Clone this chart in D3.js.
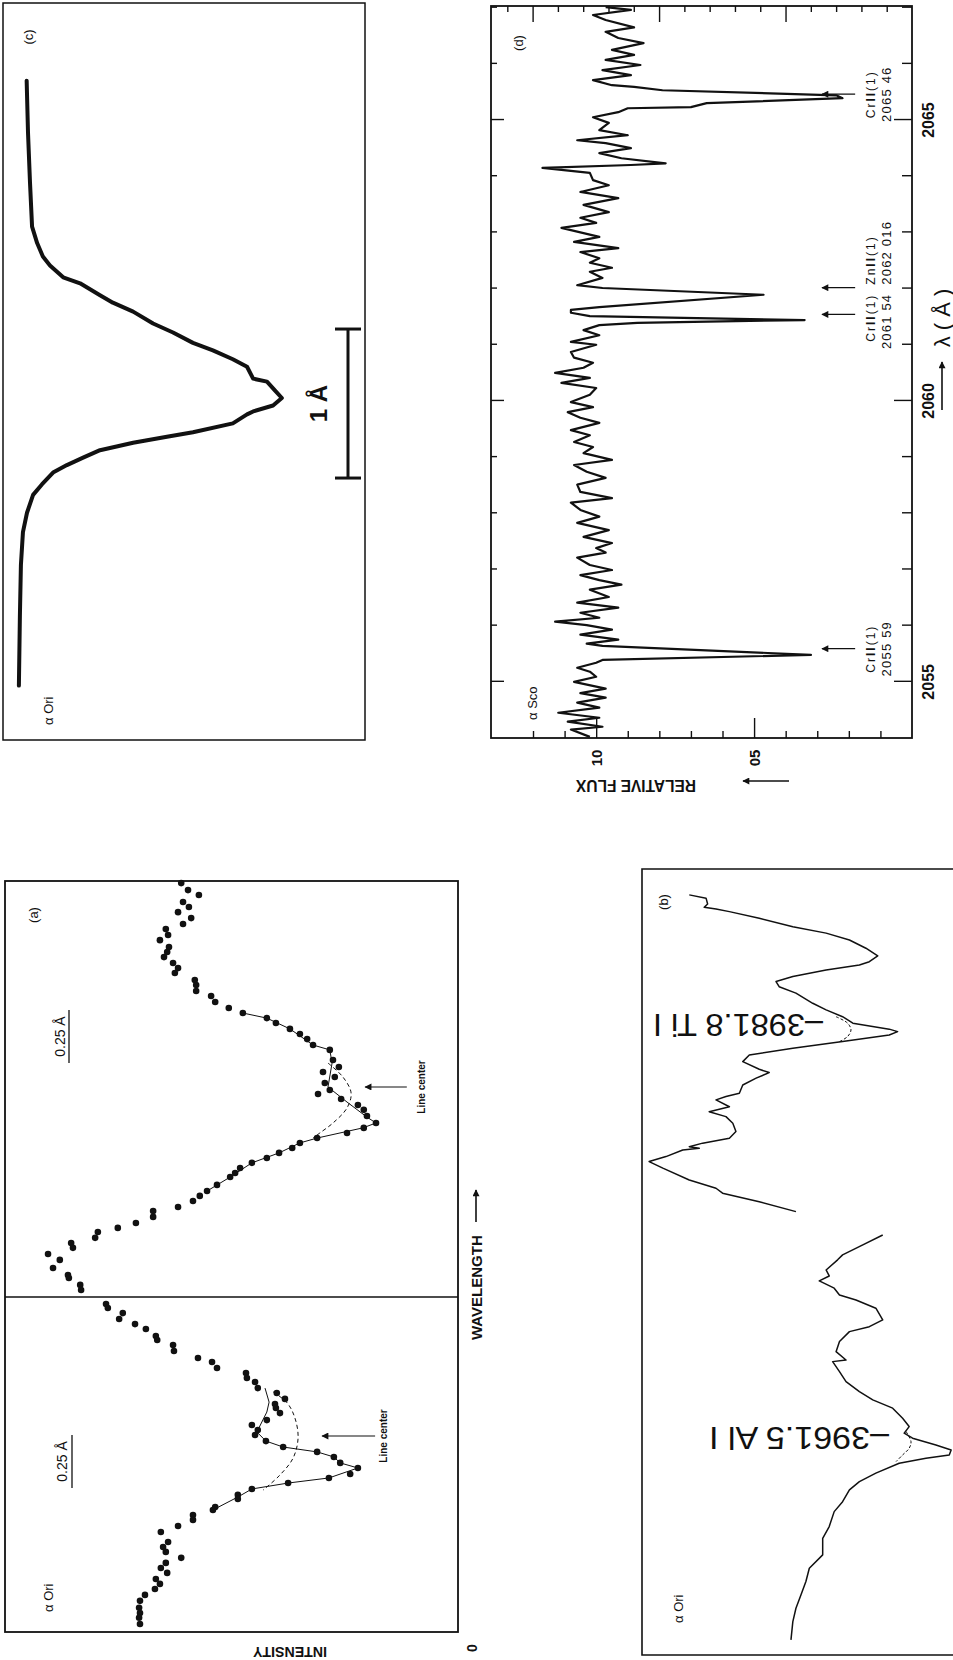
<!DOCTYPE html>
<html><head><meta charset="utf-8">
<script src="https://cdn.jsdelivr.net/npm/d3@7"></script>
<style>body{margin:0;background:#fff}svg{display:block}text{font-family:"Liberation Sans",Arial,sans-serif;fill:#111}</style>
</head><body><script>
// ---------- DATA ----------
// (c) alpha Ori line profile: wavelength offset (A) and relative intensity
const cWave = [2.13,1.78,1.44,1.15,1.04,0.95,0.89,0.81,0.77,0.69,0.64,0.58,0.50,0.44,0.37,0.32,0.26,0.21,0.13,0.11,0.05,0.00,-0.05,-0.09,-0.11,-0.17,-0.23,-0.26,-0.30,-0.35,-0.40,-0.45,-0.50,-0.58,-0.65,-0.77,-0.90,-1.12,-1.46,-1.93];
const cInt  = [1.001,0.997,0.991,0.985,0.970,0.953,0.932,0.893,0.843,0.784,0.746,0.686,0.627,0.568,0.509,0.450,0.391,0.349,0.331,0.290,0.266,0.246,0.272,0.331,0.349,0.391,0.509,0.586,0.686,0.784,0.834,0.882,0.923,0.956,0.982,1.000,1.012,1.018,1.021,1.024];

// (d) alpha Sco spectrum
const dWave = [2054.02,2054.15,2054.20,2054.29,2054.36,2054.45,2054.54,2054.63,2054.72,2054.80,2054.88,2055.00,2055.09,2055.18,2055.25,2055.34,2055.39,2055.48,2055.64,2055.68,2055.75,2055.84,2055.93,2056.01,2056.07,2056.14,2056.23,2056.32,2056.41,2056.51,2056.64,2056.73,2056.81,2056.90,2056.99,2057.08,2057.21,2057.30,2057.38,2057.47,2057.58,2057.70,2057.83,2057.94,2058.06,2058.19,2058.27,2058.38,2058.51,2058.63,2058.74,2058.86,2058.95,2059.07,2059.18,2059.27,2059.39,2059.48,2059.61,2059.70,2059.80,2059.89,2059.98,2060.11,2060.23,2060.32,2060.41,2060.50,2060.59,2060.68,2060.77,2060.87,2061.00,2061.05,2061.17,2061.26,2061.35,2061.39,2061.44,2061.51,2061.57,2061.62,2061.67,2061.89,2062.01,2062.06,2062.19,2062.30,2062.37,2062.46,2062.54,2062.65,2062.72,2062.83,2062.92,2063.08,2063.17,2063.26,2063.36,2063.49,2063.61,2063.72,2063.84,2063.93,2064.06,2064.15,2064.20,2064.23,2064.32,2064.41,2064.50,2064.59,2064.64,2064.73,2064.82,2064.95,2065.05,2065.14,2065.21,2065.23,2065.30,2065.39,2065.44,2065.53,2065.59,2065.62,2065.71,2065.80,2065.89,2065.98,2066.07,2066.16,2066.25,2066.37,2066.46,2066.57,2066.65,2066.78,2066.87,2066.96,2067.01];
const dFlux = [1.02,1.08,0.98,1.09,0.99,1.12,0.99,1.06,0.97,1.05,0.97,1.07,1.00,1.02,1.06,1.00,0.98,0.32,0.98,1.03,0.93,1.05,0.95,1.03,1.13,0.99,1.05,0.93,1.06,0.96,1.02,0.92,0.99,1.05,0.95,1.02,1.06,0.97,1.00,0.95,1.04,0.96,1.06,0.99,1.05,1.08,0.95,1.05,1.06,0.97,1.03,1.07,0.95,1.04,1.01,1.07,1.02,1.08,0.99,1.05,1.09,1.01,1.08,1.02,1.00,1.11,1.02,1.13,1.04,1.01,1.07,1.08,1.00,1.08,0.99,1.04,0.99,0.87,0.34,1.02,1.08,1.08,0.99,0.47,0.98,1.06,0.98,1.02,0.95,1.02,0.99,1.05,0.93,1.07,0.99,1.11,1.00,1.05,0.96,1.04,0.93,1.05,0.96,1.01,1.02,1.17,0.89,0.78,0.92,0.99,0.89,0.97,1.06,0.90,0.99,0.96,1.01,0.93,0.90,0.70,0.65,0.22,0.24,0.79,0.88,0.95,1.01,0.89,0.98,0.86,0.97,0.88,0.95,0.85,0.93,0.97,0.88,0.97,1.01,0.89,0.97];
const dWaveTicks = [2055,2056,2057,2058,2059,2060,2061,2062,2063,2064,2065,2066,2067];
const dWaveLabels = [2055,2060,2065];
const dFluxTicks = [0.1,0.2,0.3,0.4,0.5,0.6,0.7,0.8,0.9,1.0,1.1,1.2];
const dFluxLabelValues = [1.0,0.5];
const dFluxLabelText = ["10","05"];
const dTopTicks = [-1,0,1,2,3,4,5,6,7,8,9,10,11,12,13,14];
const lineWaves = [2055.59,2061.54,2062.016,2065.46];
const lineIons = ["Cr II (1)","Cr II (1)","Zn II (1)","Cr II (1)"];
const lineNums = ["2055 59","2061 54","2062 016","2065 46"];

// (a) alpha Ori line profiles (two panels) : wavelength offset (A) and intensity
const aUpperWave = [0.962,0.929,0.906,0.873,0.849,0.825,0.797,0.769,0.745,0.717,0.693,0.660,0.637,0.613,0.585,0.561,0.538,0.505,0.481,0.453,0.429,0.401,0.373,0.349,0.325,0.302,0.274,0.250,0.226,0.198,0.175,0.127,0.094,0.071,0.047,0.019,-0.014,-0.033,-0.057,-0.085,-0.108,-0.137,-0.170,-0.193,-0.217,-0.241,-0.264,-0.288,-0.311,-0.335,-0.358,-0.382,-0.406,-0.425,-0.462,-0.491,-0.514,-0.538,-0.566,-0.585,-0.613,-0.642,-0.665,-0.684,-0.712,-0.736,-0.759,-0.788,-0.816,-0.854,-0.887,-0.901,-0.934,-0.958];
const aUpperInt = [0.611,0.596,0.572,0.607,0.594,0.618,0.589,0.607,0.645,0.640,0.658,0.638,0.642,0.649,0.629,0.618,0.625,0.581,0.578,0.578,0.545,0.536,0.506,0.475,0.422,0.402,0.371,0.349,0.333,0.320,0.283,0.276,0.263,0.298,0.272,0.294,0.283,0.309,0.258,0.221,0.208,0.201,0.181,0.208,0.245,0.311,0.349,0.366,0.395,0.422,0.455,0.481,0.492,0.503,0.532,0.554,0.570,0.585,0.618,0.673,0.673,0.711,0.751,0.795,0.801,0.854,0.850,0.905,0.879,0.894,0.861,0.859,0.834,0.832];
const aUpperFitWave = [0.113,0.047,-0.028,-0.099,-0.170,-0.217,-0.241];
const aUpperFitInt = [0.287,0.254,0.236,0.245,0.276,0.305,0.320];
const aUpperLineWave = [0.349,0.325,0.274,0.198,0.175,0.113,0.000,-0.071,-0.142,-0.170,-0.193,-0.241,-0.264,-0.311,-0.358,-0.425,-0.491];
const aUpperLineInt = [0.475,0.422,0.371,0.320,0.283,0.278,0.287,0.245,0.201,0.181,0.210,0.311,0.349,0.395,0.455,0.503,0.554];
const aLowerWave = [0.623,0.604,0.580,0.552,0.528,0.505,0.472,0.453,0.429,0.401,0.368,0.349,0.321,0.297,0.274,0.255,0.226,0.203,0.175,0.151,0.132,0.108,0.075,0.052,0.028,0.005,-0.024,-0.052,-0.075,-0.099,-0.127,-0.151,-0.179,-0.198,-0.222,-0.250,-0.278,-0.297,-0.335,-0.349,-0.373,-0.396,-0.425,-0.453,-0.500,-0.524,-0.547,-0.575,-0.599,-0.623,-0.646,-0.675,-0.698,-0.722,-0.750,-0.778,-0.811,-0.835,-0.858,-0.887];
const aLowerInt = [0.777,0.773,0.740,0.748,0.713,0.689,0.667,0.664,0.629,0.627,0.574,0.543,0.532,0.468,0.466,0.448,0.442,0.400,0.382,0.404,0.402,0.393,0.422,0.455,0.442,0.448,0.424,0.386,0.311,0.274,0.260,0.221,0.238,0.285,0.375,0.455,0.486,0.486,0.536,0.541,0.585,0.585,0.618,0.656,0.640,0.651,0.645,0.611,0.645,0.656,0.642,0.667,0.658,0.669,0.691,0.702,0.704,0.702,0.704,0.702];
const aLowerFitWave = [0.208,0.156,0.085,-0.009,-0.104,-0.184,-0.255];
const aLowerFitInt = [0.408,0.377,0.360,0.353,0.364,0.393,0.430];
const aLowerLineWave = [0.226,0.160,0.113,0.019,-0.024,-0.052,-0.075,-0.099,-0.127,-0.151,-0.198,-0.222,-0.250,-0.288,-0.349];
const aLowerLineInt = [0.426,0.417,0.422,0.444,0.424,0.386,0.311,0.274,0.260,0.221,0.285,0.375,0.455,0.486,0.541];

// (b) alpha Ori spectra around Ti I 3981.8 and Al I 3961.5
const bTiWave = [3988.41,3988.25,3987.97,3987.81,3987.73,3987.60,3987.28,3986.87,3986.56,3986.23,3985.83,3985.46,3985.18,3985.02,3984.78,3984.46,3984.22,3983.97,3983.66,3983.17,3982.85,3982.52,3982.21,3981.92,3981.80,3981.64,3981.32,3981.00,3980.67,3980.35,3979.98,3979.82,3979.55,3979.22,3978.82,3978.66,3978.50,3978.17,3977.93,3977.69,3977.37,3976.97,3976.65,3976.41,3976.24,3976.16,3976.08,3975.76,3975.52,3975.20,3974.63,3974.23,3973.99,3973.58,3973.10];
const bTiInt = [0.848,0.794,0.789,0.800,0.762,0.719,0.623,0.515,0.408,0.333,0.280,0.242,0.269,0.301,0.408,0.515,0.569,0.559,0.505,0.451,0.408,0.355,0.322,0.205,0.178,0.205,0.355,0.515,0.655,0.676,0.623,0.591,0.633,0.676,0.687,0.730,0.762,0.719,0.784,0.730,0.708,0.698,0.719,0.805,0.848,0.816,0.869,0.923,0.977,0.933,0.848,0.762,0.741,0.623,0.505];
const bAlWave = [3971.97,3971.49,3971.01,3970.77,3970.28,3969.99,3969.75,3969.40,3969.07,3968.83,3968.43,3967.87,3967.54,3967.30,3966.82,3966.33,3965.93,3965.85,3965.37,3964.88,3964.40,3964.00,3963.60,3963.11,3962.71,3962.39,3962.15,3961.82,3961.58,3961.34,3961.18,3960.94,3960.46,3960.05,3959.65,3959.08,3958.60,3957.88,3957.31,3956.51,3955.86,3955.22,3954.57,3953.93,3953.28,3952.40];
const bAlInt = [0.226,0.290,0.355,0.371,0.408,0.398,0.430,0.382,0.365,0.312,0.248,0.226,0.269,0.333,0.365,0.376,0.344,0.387,0.365,0.344,0.301,0.258,0.194,0.162,0.141,0.157,0.130,0.055,0.006,0.012,0.087,0.173,0.248,0.301,0.333,0.355,0.382,0.398,0.419,0.419,0.462,0.473,0.489,0.505,0.515,0.521];
const bTiFitWave = [3982.52,3982.21,3981.88,3981.56,3981.32];
const bTiFitInt = [0.376,0.339,0.328,0.339,0.365];
const bAlFitWave = [3962.47,3961.98,3961.66,3961.34,3961.02];
const bAlFitInt = [0.151,0.135,0.141,0.162,0.183];
const bLineWaves = [3981.8,3961.5];
const bLineText = ["\u20133981.8 Ti I","\u20133961.5 Al I"];

// ---------- DRAW ----------
const INK = "#111";
const svg = d3.select("body").append("svg").attr("width",953).attr("height",1660);
svg.append("rect").attr("width",953).attr("height",1660).attr("fill","#fff");
const defs = svg.append("defs");
defs.append("marker").attr("id","ah").attr("viewBox","0 0 10 10").attr("refX",9).attr("refY",5)
  .attr("markerWidth",9).attr("markerHeight",7).attr("markerUnits","userSpaceOnUse").attr("orient","auto")
  .append("path").attr("d","M0,0L10,5L0,10z").attr("fill",INK);

const zip = (xs, ys) => xs.map((x,i)=>[x, ys[i]]);
function rotPanel(left, bottom){ return svg.append("g").attr("transform",`translate(${left},${bottom}) rotate(-90)`); }
function txt(g, u, v, s, size, opts={}){
  const t = g.append("text").attr("x",u).attr("y",v).attr("font-size",size)
    .attr("text-anchor",opts.anchor||"middle").attr("dominant-baseline","central").text(s);
  if(opts.bold) t.attr("font-weight","bold");
  if(opts.rot) t.attr("transform",`rotate(${opts.rot},${u},${v})`);
  if(opts.len) t.attr("textLength",opts.len).attr("lengthAdjust","spacingAndGlyphs");
  if(opts.ls) t.attr("letter-spacing",opts.ls);
  return t;
}
function styleTicks(g, attr, sign, isLong, s, l){
  g.select(".domain").remove();
  g.selectAll(".tick line").attr(attr, d => sign*(isLong(d)?l:s)).attr("stroke",INK).attr("stroke-width",1.4);
}

// ===== Panel (c) =====
{
  const W=737, H=362;
  const g = rotPanel(3,740);
  const x = d3.scaleLinear().domain([-2.295,2.651]).range([0,W]);
  const y = d3.scaleLinear().domain([0,1.071]).range([H,0]);
  g.append("rect").attr("width",W).attr("height",H).attr("fill","none").attr("stroke",INK).attr("stroke-width",1.5);
  g.append("path").datum(zip(cWave,cInt).sort((a,b)=>a[0]-b[0]))
    .attr("d",d3.line().x(d=>x(d[0])).y(d=>y(d[1])))
    .attr("fill","none").attr("stroke",INK).attr("stroke-width",4).attr("stroke-linejoin","round").attr("stroke-linecap","round");
  const b0 = -0.537, b1 = b0 + 1, bv = 345;
  g.append("line").attr("x1",x(b0)).attr("x2",x(b1)).attr("y1",bv).attr("y2",bv).attr("stroke",INK).attr("stroke-width",3);
  [b0,b1].forEach(b=>g.append("line").attr("x1",x(b)).attr("x2",x(b)).attr("y1",bv-13).attr("y2",bv+13).attr("stroke",INK).attr("stroke-width",3));
  txt(g, x((b0+b1)/2), 315, "1 \u00C5", 24, {bold:true});
  txt(g, 703, 25, "(c)", 13);
  txt(g, 15, 45, "\u03B1 Ori", 13, {anchor:"start"});
}

// ===== Panel (d) =====
{
  const W=732, H=421;
  const g = rotPanel(491,738);
  const x = d3.scaleLinear().domain([2054.0,2067.03]).range([0,W]);
  const y = d3.scaleLinear().domain([0,1.333]).range([H,0]);
  const tR = d3.scaleLinear().domain([-1.645,15]).range([0,H]);
  g.append("rect").attr("width",W).attr("height",H).attr("fill","none").attr("stroke",INK).attr("stroke-width",1.8);
  const isMajorW = d => d%5===0;
  const ax1 = g.append("g").attr("transform",`translate(0,${H})`).call(d3.axisTop(x).tickValues(dWaveTicks).tickFormat(""));
  styleTicks(ax1,"y2",-1,isMajorW,10,18);
  const ax2 = g.append("g").call(d3.axisBottom(x).tickValues(dWaveTicks).tickFormat(""));
  styleTicks(ax2,"y2",1,isMajorW,6,13);
  const ax3 = g.append("g").call(d3.axisRight(y).tickValues(dFluxTicks).tickFormat(""));
  styleTicks(ax3,"x2",1,d=>Math.abs(d-0.5)<1e-6||Math.abs(d-1)<1e-6,7,20);
  const ax4 = g.append("g").attr("transform",`translate(${W},0)`).call(d3.axisLeft(tR).tickValues(dTopTicks).tickFormat(""));
  styleTicks(ax4,"x2",-1,d=>d%5===0,6,16);

  g.append("path").datum(zip(dWave,dFlux))
    .attr("d",d3.line().x(d=>x(d[0])).y(d=>y(d[1])))
    .attr("fill","none").attr("stroke",INK).attr("stroke-width",2.2).attr("stroke-linejoin","round");

  lineWaves.forEach((w,i)=>{
    const prevClose = i>0 && w-lineWaves[i-1] < 0.6;
    const nextClose = i<lineWaves.length-1 && lineWaves[i+1]-w < 0.6;
    let anchor="middle", u=x(w);
    if(nextClose){anchor="end"; u=x(lineWaves[i+1])-6;}
    else if(prevClose){anchor="start"; u=x(w)+3;}
    g.append("line").attr("x1",x(w)).attr("x2",x(w)).attr("y1",y(0.18)).attr("y2",y(0.285))
      .attr("stroke",INK).attr("stroke-width",1.3).attr("marker-end","url(#ah)");
    const parts = lineIons[i].split(" ");
    const t = g.append("text").attr("x",u).attr("y",380).attr("font-size",12).attr("letter-spacing",2)
      .attr("text-anchor",anchor).attr("dominant-baseline","central");
    t.append("tspan").text(parts[0]);
    t.append("tspan").attr("font-weight","bold").text(parts[1]);
    t.append("tspan").text(parts[2]);
    txt(g, u, 395, lineNums[i], 13, {anchor, ls:1.2});
  });
  dWaveLabels.forEach(v=>txt(g, x(v), 437, String(v), 16, {bold:true}));
  dFluxLabelValues.forEach((v,i)=>txt(g, -20, y(v), dFluxLabelText[i], 15, {bold:true}));
  txt(g, -47, 145, "RELATIVE FLUX", 16, {bold:true, rot:-90, len:120});
  g.append("line").attr("x1",-43).attr("x2",-43).attr("y1",298).attr("y2",252).attr("stroke",INK).attr("stroke-width",1.4).attr("marker-end","url(#ah)");
  txt(g, 695, 27, "(d)", 13);
  txt(g, 18, 41, "\u03B1 Sco", 13, {anchor:"start"});
  g.append("line").attr("x1",328).attr("x2",376).attr("y1",451).attr("y2",451).attr("stroke",INK).attr("stroke-width",1.6).attr("marker-end","url(#ah)");
  txt(g, 420, 451, "\u03BB ( \u00C5 )", 22);
}

// ===== Panel (a) =====
{
  const W=751, H=453, DIV=335;
  const g = rotPanel(5,1632);
  const xLo = d3.scaleLinear().domain([-0.925,0.656]).range([0,DIV]);
  const xUp = d3.scaleLinear().domain([-0.991,0.972]).range([DIV,W]);
  const y = d3.scaleLinear().domain([0,1]).range([H,0]);
  g.append("rect").attr("width",W).attr("height",H).attr("fill","none").attr("stroke",INK).attr("stroke-width",1.8);
  g.append("line").attr("x1",DIV).attr("x2",DIV).attr("y1",0).attr("y2",H).attr("stroke",INK).attr("stroke-width",1.5);

  const sets = [
    {x:xUp, w:aUpperWave, i:aUpperInt, fw:aUpperFitWave, fi:aUpperFitInt, lw:aUpperLineWave, li:aUpperLineInt, head:0.205, tail:0.113, lcV:416, bar:[0.113,0.363], barT:55, barL:64},
    {x:xLo, w:aLowerWave, i:aLowerInt, fw:aLowerFitWave, fi:aLowerFitInt, lw:aLowerLineWave, li:aLowerLineInt, head:0.300, tail:0.183, lcV:378, bar:[-0.245,0.005], barT:57, barL:67}
  ];
  sets.forEach(s=>{
    g.append("path").datum(zip(s.fw,s.fi)).attr("d",d3.line().x(d=>s.x(d[0])).y(d=>y(d[1])).curve(d3.curveCatmullRom))
      .attr("fill","none").attr("stroke",INK).attr("stroke-width",1).attr("stroke-dasharray","4,3");
    g.append("path").datum(zip(s.lw,s.li)).attr("d",d3.line().x(d=>s.x(d[0])).y(d=>y(d[1])))
      .attr("fill","none").attr("stroke",INK).attr("stroke-width",1);
    g.selectAll(null).data(zip(s.w,s.i)).join("circle")
      .attr("cx",d=>s.x(d[0])).attr("cy",d=>y(d[1])).attr("r",3.3).attr("fill",INK);
    g.append("line").attr("x1",s.x(0)).attr("x2",s.x(0)).attr("y1",y(s.tail)).attr("y2",y(s.head))
      .attr("stroke",INK).attr("stroke-width",1.2).attr("marker-end","url(#ah)");
    txt(g, s.x(0), s.lcV, "Line center", 10, {bold:true});
    txt(g, (s.x(s.bar[0])+s.x(s.bar[1]))/2, s.barT, "0.25 \u00C5", 14);
    g.append("line").attr("x1",s.x(s.bar[0])).attr("x2",s.x(s.bar[1])).attr("y1",s.barL).attr("y2",s.barL).attr("stroke",INK).attr("stroke-width",1.3);
  });
  txt(g, 717, 28, "(a)", 13);
  txt(g, 20, 43, "\u03B1 Ori", 13, {anchor:"start"});
  txt(g, -20, 285, "INTENSITY", 15, {bold:true, rot:-90, len:74});
  txt(g, -16, 467, "0", 14, {bold:true});
  txt(g, 292, 471, "WAVELENGTH", 15, {bold:true, anchor:"start"});
  g.append("line").attr("x1",410).attr("x2",442).attr("y1",471).attr("y2",471).attr("stroke",INK).attr("stroke-width",1.6).attr("marker-end","url(#ah)");
}

// ===== Panel (b) =====
{
  const W=786, H=311;
  const g = rotPanel(642,1655);
  const x = d3.scaleLinear().domain([3951.67,3989.66]).range([0,W]);
  const y = d3.scaleLinear().domain([0,1]).range([H,0]);
  g.append("path").attr("d",`M0,${H+30}V0H${W}V${H+30}`).attr("fill","none").attr("stroke",INK).attr("stroke-width",1.6);
  const line = d3.line().x(d=>x(d[0])).y(d=>y(d[1]));
  [[bTiWave,bTiInt],[bAlWave,bAlInt]].forEach(([w,i])=>{
    g.append("path").datum(zip(w,i)).attr("d",line).attr("fill","none").attr("stroke",INK).attr("stroke-width",1.5).attr("stroke-linejoin","round");
  });
  [[bTiFitWave,bTiFitInt],[bAlFitWave,bAlFitInt]].forEach(([w,i])=>{
    g.append("path").datum(zip(w,i)).attr("d",d3.line().x(d=>x(d[0])).y(d=>y(d[1])).curve(d3.curveCatmullRom))
      .attr("fill","none").attr("stroke",INK).attr("stroke-width",1).attr("stroke-dasharray","3,2");
  });
  const lblShift = [0.3, 0.65], lblV = [181, 247], lblLen = [170, 180];
  bLineWaves.forEach((w,i)=>txt(g, x(w+lblShift[i]), lblV[i], bLineText[i], 32, {anchor:"start", rot:-90, len:lblLen[i]}));
  txt(g, 753, 21, "(b)", 13);
  txt(g, 32, 36, "\u03B1 Ori", 13, {anchor:"start"});
}
</script></body></html>
